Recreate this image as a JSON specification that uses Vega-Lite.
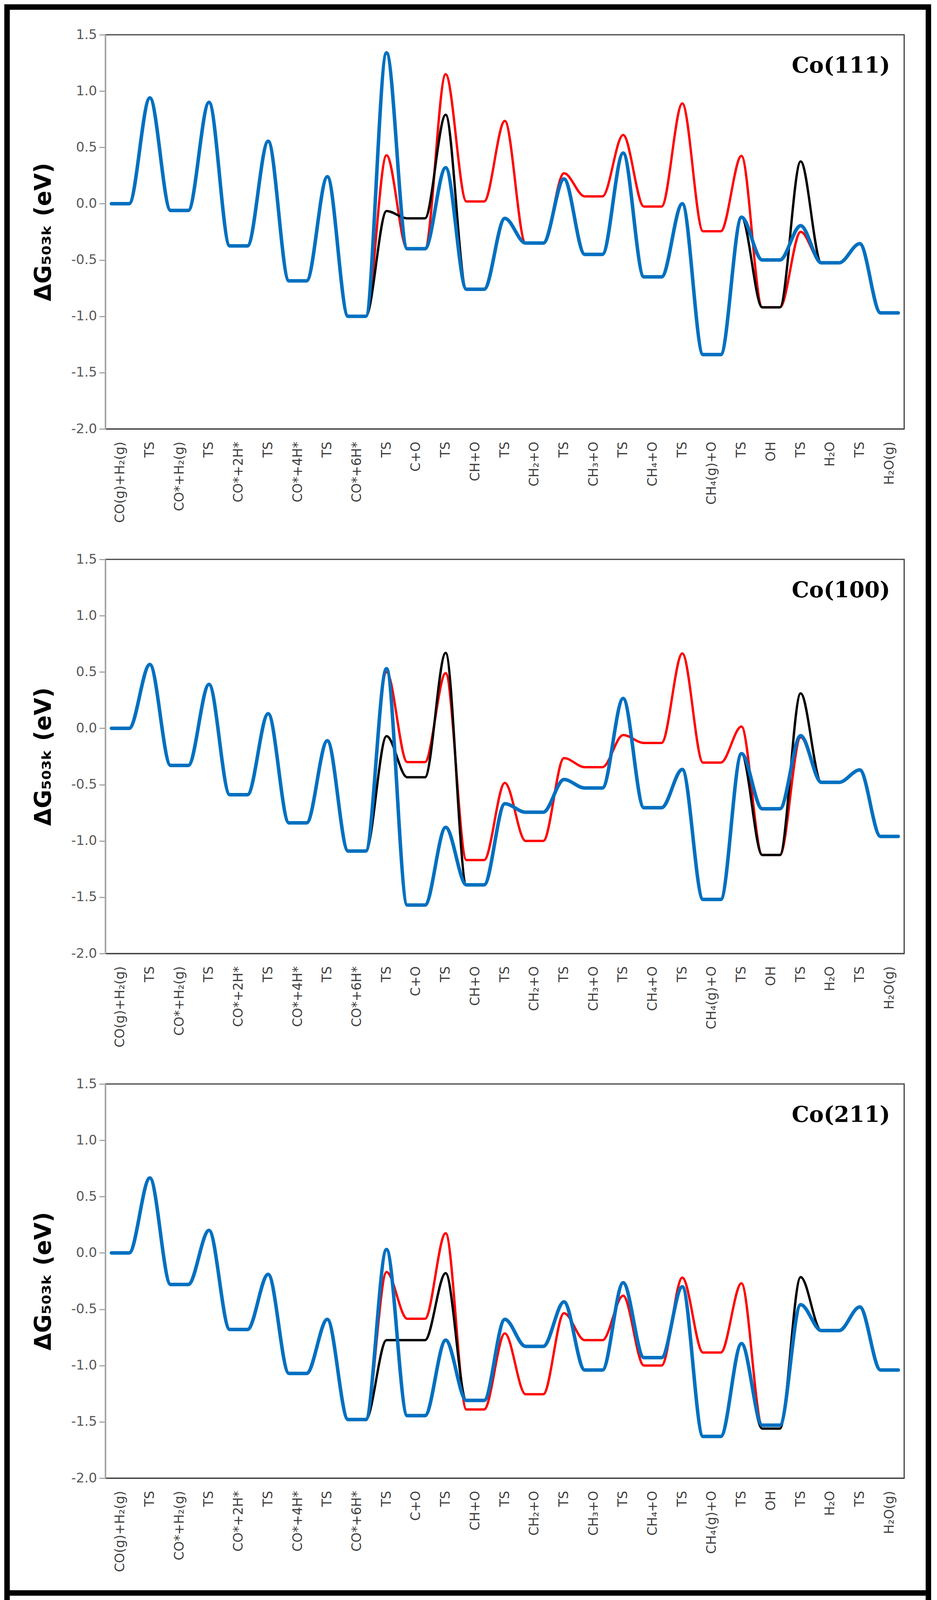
{
  "$schema": "https://vega.github.io/schema/vega-lite/v6.json",
  "description": "Free energy diagrams for CO methanation on Co(111), Co(100) and Co(211), three pathways each.",
  "background": "white",
  "padding": {"left": 11, "top": 11, "right": 0, "bottom": 0},
  "config": {
    "view": {"stroke": null},
    "title": {"orient": "top", "anchor": "end", "frame": "group", "offset": -126, "baseline": "middle", "dx": -36, "font": "DejaVu Serif", "fontSize": 56, "fontWeight": "bold", "color": "black"}
  },
  "datasets": {
    "d111r": [{"x":-0.3,"g":0},{"x":0.3,"g":0},{"x":1,"g":0.94},{"x":1.7,"g":-0.06},{"x":2.3,"g":-0.06},{"x":3,"g":0.9},{"x":3.7,"g":-0.375},{"x":4.3,"g":-0.375},{"x":5,"g":0.555},{"x":5.7,"g":-0.685},{"x":6.3,"g":-0.685},{"x":7,"g":0.24},{"x":7.7,"g":-1},{"x":8.3,"g":-1},{"x":9,"g":0.43},{"x":9.7,"g":-0.4},{"x":10.3,"g":-0.4},{"x":11,"g":1.15},{"x":11.7,"g":0.02},{"x":12.3,"g":0.02},{"x":13,"g":0.735},{"x":13.7,"g":-0.35},{"x":14.3,"g":-0.35},{"x":15,"g":0.27},{"x":15.7,"g":0.065},{"x":16.3,"g":0.065},{"x":17,"g":0.61},{"x":17.7,"g":-0.025},{"x":18.3,"g":-0.025},{"x":19,"g":0.89},{"x":19.7,"g":-0.245},{"x":20.3,"g":-0.245},{"x":21,"g":0.425},{"x":21.7,"g":-0.92},{"x":22.3,"g":-0.92},{"x":23,"g":-0.25},{"x":23.7,"g":-0.525},{"x":24.3,"g":-0.525},{"x":25,"g":-0.355},{"x":25.7,"g":-0.97},{"x":26.3,"g":-0.97}],
    "d111k": [{"x":-0.3,"g":0},{"x":0.3,"g":0},{"x":1,"g":0.94},{"x":1.7,"g":-0.06},{"x":2.3,"g":-0.06},{"x":3,"g":0.9},{"x":3.7,"g":-0.375},{"x":4.3,"g":-0.375},{"x":5,"g":0.555},{"x":5.7,"g":-0.685},{"x":6.3,"g":-0.685},{"x":7,"g":0.24},{"x":7.7,"g":-1},{"x":8.3,"g":-1},{"x":9,"g":-0.065},{"x":9.7,"g":-0.13},{"x":10.3,"g":-0.13},{"x":11,"g":0.79},{"x":11.7,"g":-0.76},{"x":12.3,"g":-0.76},{"x":13,"g":-0.13},{"x":13.7,"g":-0.35},{"x":14.3,"g":-0.35},{"x":15,"g":0.22},{"x":15.7,"g":-0.45},{"x":16.3,"g":-0.45},{"x":17,"g":0.45},{"x":17.7,"g":-0.65},{"x":18.3,"g":-0.65},{"x":19,"g":0},{"x":19.7,"g":-1.34},{"x":20.3,"g":-1.34},{"x":21,"g":-0.12},{"x":21.7,"g":-0.92},{"x":22.3,"g":-0.92},{"x":23,"g":0.375},{"x":23.7,"g":-0.525},{"x":24.3,"g":-0.525},{"x":25,"g":-0.355},{"x":25.7,"g":-0.97},{"x":26.3,"g":-0.97}],
    "d111b": [{"x":-0.3,"g":0},{"x":0.3,"g":0},{"x":1,"g":0.94},{"x":1.7,"g":-0.06},{"x":2.3,"g":-0.06},{"x":3,"g":0.9},{"x":3.7,"g":-0.375},{"x":4.3,"g":-0.375},{"x":5,"g":0.555},{"x":5.7,"g":-0.685},{"x":6.3,"g":-0.685},{"x":7,"g":0.24},{"x":7.7,"g":-1},{"x":8.3,"g":-1},{"x":9,"g":1.34},{"x":9.7,"g":-0.4},{"x":10.3,"g":-0.4},{"x":11,"g":0.32},{"x":11.7,"g":-0.76},{"x":12.3,"g":-0.76},{"x":13,"g":-0.13},{"x":13.7,"g":-0.35},{"x":14.3,"g":-0.35},{"x":15,"g":0.22},{"x":15.7,"g":-0.45},{"x":16.3,"g":-0.45},{"x":17,"g":0.45},{"x":17.7,"g":-0.65},{"x":18.3,"g":-0.65},{"x":19,"g":0},{"x":19.7,"g":-1.34},{"x":20.3,"g":-1.34},{"x":21,"g":-0.12},{"x":21.7,"g":-0.5},{"x":22.3,"g":-0.5},{"x":23,"g":-0.195},{"x":23.7,"g":-0.525},{"x":24.3,"g":-0.525},{"x":25,"g":-0.355},{"x":25.7,"g":-0.97},{"x":26.3,"g":-0.97}],
    "d100r": [{"x":-0.3,"g":0},{"x":0.3,"g":0},{"x":1,"g":0.567},{"x":1.7,"g":-0.33},{"x":2.3,"g":-0.33},{"x":3,"g":0.39},{"x":3.7,"g":-0.59},{"x":4.3,"g":-0.59},{"x":5,"g":0.13},{"x":5.7,"g":-0.84},{"x":6.3,"g":-0.84},{"x":7,"g":-0.11},{"x":7.7,"g":-1.09},{"x":8.3,"g":-1.09},{"x":9,"g":0.5},{"x":9.7,"g":-0.3},{"x":10.3,"g":-0.3},{"x":11,"g":0.49},{"x":11.7,"g":-1.17},{"x":12.3,"g":-1.17},{"x":13,"g":-0.485},{"x":13.7,"g":-1},{"x":14.3,"g":-1},{"x":15,"g":-0.265},{"x":15.7,"g":-0.345},{"x":16.3,"g":-0.345},{"x":17,"g":-0.06},{"x":17.7,"g":-0.13},{"x":18.3,"g":-0.13},{"x":19,"g":0.665},{"x":19.7,"g":-0.305},{"x":20.3,"g":-0.305},{"x":21,"g":0.015},{"x":21.7,"g":-1.125},{"x":22.3,"g":-1.125},{"x":23,"g":-0.08},{"x":23.7,"g":-0.48},{"x":24.3,"g":-0.48},{"x":25,"g":-0.37},{"x":25.7,"g":-0.96},{"x":26.3,"g":-0.96}],
    "d100k": [{"x":-0.3,"g":0},{"x":0.3,"g":0},{"x":1,"g":0.567},{"x":1.7,"g":-0.33},{"x":2.3,"g":-0.33},{"x":3,"g":0.39},{"x":3.7,"g":-0.59},{"x":4.3,"g":-0.59},{"x":5,"g":0.13},{"x":5.7,"g":-0.84},{"x":6.3,"g":-0.84},{"x":7,"g":-0.11},{"x":7.7,"g":-1.09},{"x":8.3,"g":-1.09},{"x":9,"g":-0.07},{"x":9.7,"g":-0.435},{"x":10.3,"g":-0.435},{"x":11,"g":0.67},{"x":11.7,"g":-1.39},{"x":12.3,"g":-1.39},{"x":13,"g":-0.67},{"x":13.7,"g":-0.745},{"x":14.3,"g":-0.745},{"x":15,"g":-0.455},{"x":15.7,"g":-0.53},{"x":16.3,"g":-0.53},{"x":17,"g":0.265},{"x":17.7,"g":-0.705},{"x":18.3,"g":-0.705},{"x":19,"g":-0.365},{"x":19.7,"g":-1.52},{"x":20.3,"g":-1.52},{"x":21,"g":-0.225},{"x":21.7,"g":-1.125},{"x":22.3,"g":-1.125},{"x":23,"g":0.31},{"x":23.7,"g":-0.48},{"x":24.3,"g":-0.48},{"x":25,"g":-0.37},{"x":25.7,"g":-0.96},{"x":26.3,"g":-0.96}],
    "d100b": [{"x":-0.3,"g":0},{"x":0.3,"g":0},{"x":1,"g":0.567},{"x":1.7,"g":-0.33},{"x":2.3,"g":-0.33},{"x":3,"g":0.39},{"x":3.7,"g":-0.59},{"x":4.3,"g":-0.59},{"x":5,"g":0.13},{"x":5.7,"g":-0.84},{"x":6.3,"g":-0.84},{"x":7,"g":-0.11},{"x":7.7,"g":-1.09},{"x":8.3,"g":-1.09},{"x":9,"g":0.53},{"x":9.7,"g":-1.57},{"x":10.3,"g":-1.57},{"x":11,"g":-0.88},{"x":11.7,"g":-1.39},{"x":12.3,"g":-1.39},{"x":13,"g":-0.67},{"x":13.7,"g":-0.745},{"x":14.3,"g":-0.745},{"x":15,"g":-0.455},{"x":15.7,"g":-0.53},{"x":16.3,"g":-0.53},{"x":17,"g":0.265},{"x":17.7,"g":-0.705},{"x":18.3,"g":-0.705},{"x":19,"g":-0.365},{"x":19.7,"g":-1.52},{"x":20.3,"g":-1.52},{"x":21,"g":-0.225},{"x":21.7,"g":-0.715},{"x":22.3,"g":-0.715},{"x":23,"g":-0.065},{"x":23.7,"g":-0.48},{"x":24.3,"g":-0.48},{"x":25,"g":-0.37},{"x":25.7,"g":-0.96},{"x":26.3,"g":-0.96}],
    "d211r": [{"x":-0.3,"g":0},{"x":0.3,"g":0},{"x":1,"g":0.666},{"x":1.7,"g":-0.28},{"x":2.3,"g":-0.28},{"x":3,"g":0.2},{"x":3.7,"g":-0.68},{"x":4.3,"g":-0.68},{"x":5,"g":-0.19},{"x":5.7,"g":-1.07},{"x":6.3,"g":-1.07},{"x":7,"g":-0.59},{"x":7.7,"g":-1.48},{"x":8.3,"g":-1.48},{"x":9,"g":-0.17},{"x":9.7,"g":-0.585},{"x":10.3,"g":-0.585},{"x":11,"g":0.175},{"x":11.7,"g":-1.39},{"x":12.3,"g":-1.39},{"x":13,"g":-0.715},{"x":13.7,"g":-1.255},{"x":14.3,"g":-1.255},{"x":15,"g":-0.535},{"x":15.7,"g":-0.775},{"x":16.3,"g":-0.775},{"x":17,"g":-0.38},{"x":17.7,"g":-1},{"x":18.3,"g":-1},{"x":19,"g":-0.22},{"x":19.7,"g":-0.885},{"x":20.3,"g":-0.885},{"x":21,"g":-0.27},{"x":21.7,"g":-1.53},{"x":22.3,"g":-1.53},{"x":23,"g":-0.46},{"x":23.7,"g":-0.69},{"x":24.3,"g":-0.69},{"x":25,"g":-0.48},{"x":25.7,"g":-1.04},{"x":26.3,"g":-1.04}],
    "d211k": [{"x":-0.3,"g":0},{"x":0.3,"g":0},{"x":1,"g":0.666},{"x":1.7,"g":-0.28},{"x":2.3,"g":-0.28},{"x":3,"g":0.2},{"x":3.7,"g":-0.68},{"x":4.3,"g":-0.68},{"x":5,"g":-0.19},{"x":5.7,"g":-1.07},{"x":6.3,"g":-1.07},{"x":7,"g":-0.59},{"x":7.7,"g":-1.48},{"x":8.3,"g":-1.48},{"x":9,"g":-0.775},{"x":9.7,"g":-0.775},{"x":10.3,"g":-0.775},{"x":11,"g":-0.18},{"x":11.7,"g":-1.31},{"x":12.3,"g":-1.31},{"x":13,"g":-0.59},{"x":13.7,"g":-0.83},{"x":14.3,"g":-0.83},{"x":15,"g":-0.435},{"x":15.7,"g":-1.04},{"x":16.3,"g":-1.04},{"x":17,"g":-0.265},{"x":17.7,"g":-0.93},{"x":18.3,"g":-0.93},{"x":19,"g":-0.3},{"x":19.7,"g":-1.63},{"x":20.3,"g":-1.63},{"x":21,"g":-0.805},{"x":21.7,"g":-1.56},{"x":22.3,"g":-1.56},{"x":23,"g":-0.215},{"x":23.7,"g":-0.69},{"x":24.3,"g":-0.69},{"x":25,"g":-0.48},{"x":25.7,"g":-1.04},{"x":26.3,"g":-1.04}],
    "d211b": [{"x":-0.3,"g":0},{"x":0.3,"g":0},{"x":1,"g":0.666},{"x":1.7,"g":-0.28},{"x":2.3,"g":-0.28},{"x":3,"g":0.2},{"x":3.7,"g":-0.68},{"x":4.3,"g":-0.68},{"x":5,"g":-0.19},{"x":5.7,"g":-1.07},{"x":6.3,"g":-1.07},{"x":7,"g":-0.59},{"x":7.7,"g":-1.48},{"x":8.3,"g":-1.48},{"x":9,"g":0.03},{"x":9.7,"g":-1.445},{"x":10.3,"g":-1.445},{"x":11,"g":-0.775},{"x":11.7,"g":-1.31},{"x":12.3,"g":-1.31},{"x":13,"g":-0.59},{"x":13.7,"g":-0.83},{"x":14.3,"g":-0.83},{"x":15,"g":-0.435},{"x":15.7,"g":-1.04},{"x":16.3,"g":-1.04},{"x":17,"g":-0.265},{"x":17.7,"g":-0.93},{"x":18.3,"g":-0.93},{"x":19,"g":-0.3},{"x":19.7,"g":-1.63},{"x":20.3,"g":-1.63},{"x":21,"g":-0.805},{"x":21.7,"g":-1.53},{"x":22.3,"g":-1.53},{"x":23,"g":-0.46},{"x":23.7,"g":-0.69},{"x":24.3,"g":-0.69},{"x":25,"g":-0.48},{"x":25.7,"g":-1.04},{"x":26.3,"g":-1.04}]
  },
  "spacing": 0,
  "hconcat": [
    {"width": 14, "height": 4134, "data": {"values": []}, "mark": "rect", "view": {"fill": "black", "stroke": null}},
    {
      "spacing": 45,
      "vconcat": [
        {"width": 2344, "height": 14, "data": {"values": []}, "mark": "rect", "view": {"fill": "black", "stroke": null}},
        {
          "spacing": 0,
          "hconcat": [
            {"width": 57, "height": 10, "data": {"values": []}, "mark": "rect", "view": {"stroke": null}},
            {
              "spacing": 73,
              "vconcat": [
                {
                  "width": 2044, "height": 1009,
                  "title": {"text": "Co(111)"},
                  "view": {"stroke": "#404040", "strokeWidth": 3},
                  "encoding": {
                    "x": {"field": "x", "type": "quantitative", "scale": {"domain": [-0.5, 26.5], "nice": false, "zero": false},
                      "axis": {"values": [0,1,2,3,4,5,6,7,8,9,10,11,12,13,14,15,16,17,18,19,20,21,22,23,24,25,26], "labelExpr": "['CO(g)+H₂(g)','TS','CO*+H₂(g)','TS','CO*+2H*','TS','CO*+4H*','TS','CO*+6H*','TS','C+O','TS','CH+O','TS','CH₂+O','TS','CH₃+O','TS','CH₄+O','TS','CH₄(g)+O','TS','OH','TS','H₂O','TS','H₂O(g)'][datum.value]", "labelAngle": -90, "labelAlign": "right", "labelBaseline": "middle", "labelPadding": 32, "labelLimit": 0, "labelFont": "DejaVu Sans", "labelFontSize": 33, "labelColor": "#404040", "labelOverlap": false, "labelFlush": false, "labelBound": false, "ticks": false, "grid": false, "domainColor": "#404040", "domainWidth": 3, "title": null}},
                    "y": {"field": "g", "type": "quantitative", "scale": {"domain": [-2, 1.5], "nice": false, "zero": false},
                      "axis": {"values": [-2,-1.5,-1,-0.5,0,0.5,1,1.5], "labelExpr": "replace(format(datum.value, '.1f'), '\u2212', '-')", "tickSize": 16, "tickColor": "#a6a6a6", "tickWidth": 3, "domainColor": "#a6a6a6", "domainWidth": 3, "labelFont": "DejaVu Sans", "labelFontSize": 34, "labelColor": "#595959", "labelPadding": 6, "title": "ΔG₅₀₃ₖ (eV)", "titleFont": "DejaVu Sans", "titleFontSize": 58, "titleFontWeight": "bold", "titleColor": "black", "titlePadding": 40, "grid": false}}
                  },
                  "layer": [
                    {"data": {"values": [{}]}, "mark": {"type": "rule", "color": "#868686", "strokeWidth": 2}, "encoding": {"x": {"datum": -0.5}, "x2": {"datum": 26.5}, "y": {"datum": 0}}},
                    {"data": {"name": "d111r"}, "mark": {"type": "line", "interpolate": "monotone", "color": "#ff0000", "strokeWidth": 6, "strokeCap": "round", "strokeJoin": "round"}},
                    {"data": {"name": "d111k"}, "mark": {"type": "line", "interpolate": "monotone", "color": "#000000", "strokeWidth": 6, "strokeCap": "round", "strokeJoin": "round"}},
                    {"data": {"name": "d111b"}, "mark": {"type": "line", "interpolate": "monotone", "color": "#0070c0", "strokeWidth": 9, "strokeCap": "round", "strokeJoin": "round"}}
                  ]
                },
                {
                  "width": 2044, "height": 1009,
                  "title": {"text": "Co(100)"},
                  "view": {"stroke": "#404040", "strokeWidth": 3},
                  "encoding": {
                    "x": {"field": "x", "type": "quantitative", "scale": {"domain": [-0.5, 26.5], "nice": false, "zero": false},
                      "axis": {"values": [0,1,2,3,4,5,6,7,8,9,10,11,12,13,14,15,16,17,18,19,20,21,22,23,24,25,26], "labelExpr": "['CO(g)+H₂(g)','TS','CO*+H₂(g)','TS','CO*+2H*','TS','CO*+4H*','TS','CO*+6H*','TS','C+O','TS','CH+O','TS','CH₂+O','TS','CH₃+O','TS','CH₄+O','TS','CH₄(g)+O','TS','OH','TS','H₂O','TS','H₂O(g)'][datum.value]", "labelAngle": -90, "labelAlign": "right", "labelBaseline": "middle", "labelPadding": 32, "labelLimit": 0, "labelFont": "DejaVu Sans", "labelFontSize": 33, "labelColor": "#404040", "labelOverlap": false, "labelFlush": false, "labelBound": false, "ticks": false, "grid": false, "domainColor": "#404040", "domainWidth": 3, "title": null}},
                    "y": {"field": "g", "type": "quantitative", "scale": {"domain": [-2, 1.5], "nice": false, "zero": false},
                      "axis": {"values": [-2,-1.5,-1,-0.5,0,0.5,1,1.5], "labelExpr": "replace(format(datum.value, '.1f'), '\u2212', '-')", "tickSize": 16, "tickColor": "#a6a6a6", "tickWidth": 3, "domainColor": "#a6a6a6", "domainWidth": 3, "labelFont": "DejaVu Sans", "labelFontSize": 34, "labelColor": "#595959", "labelPadding": 6, "title": "ΔG₅₀₃ₖ (eV)", "titleFont": "DejaVu Sans", "titleFontSize": 58, "titleFontWeight": "bold", "titleColor": "black", "titlePadding": 40, "grid": false}}
                  },
                  "layer": [
                    {"data": {"values": [{}]}, "mark": {"type": "rule", "color": "#868686", "strokeWidth": 2}, "encoding": {"x": {"datum": -0.5}, "x2": {"datum": 26.5}, "y": {"datum": 0}}},
                    {"data": {"name": "d100r"}, "mark": {"type": "line", "interpolate": "monotone", "color": "#ff0000", "strokeWidth": 6, "strokeCap": "round", "strokeJoin": "round"}},
                    {"data": {"name": "d100k"}, "mark": {"type": "line", "interpolate": "monotone", "color": "#000000", "strokeWidth": 6, "strokeCap": "round", "strokeJoin": "round"}},
                    {"data": {"name": "d100b"}, "mark": {"type": "line", "interpolate": "monotone", "color": "#0070c0", "strokeWidth": 9, "strokeCap": "round", "strokeJoin": "round"}}
                  ]
                },
                {
                  "width": 2044, "height": 1009,
                  "title": {"text": "Co(211)"},
                  "view": {"stroke": "#404040", "strokeWidth": 3},
                  "encoding": {
                    "x": {"field": "x", "type": "quantitative", "scale": {"domain": [-0.5, 26.5], "nice": false, "zero": false},
                      "axis": {"values": [0,1,2,3,4,5,6,7,8,9,10,11,12,13,14,15,16,17,18,19,20,21,22,23,24,25,26], "labelExpr": "['CO(g)+H₂(g)','TS','CO*+H₂(g)','TS','CO*+2H*','TS','CO*+4H*','TS','CO*+6H*','TS','C+O','TS','CH+O','TS','CH₂+O','TS','CH₃+O','TS','CH₄+O','TS','CH₄(g)+O','TS','OH','TS','H₂O','TS','H₂O(g)'][datum.value]", "labelAngle": -90, "labelAlign": "right", "labelBaseline": "middle", "labelPadding": 32, "labelLimit": 0, "labelFont": "DejaVu Sans", "labelFontSize": 33, "labelColor": "#404040", "labelOverlap": false, "labelFlush": false, "labelBound": false, "ticks": false, "grid": false, "domainColor": "#404040", "domainWidth": 3, "title": null}},
                    "y": {"field": "g", "type": "quantitative", "scale": {"domain": [-2, 1.5], "nice": false, "zero": false},
                      "axis": {"values": [-2,-1.5,-1,-0.5,0,0.5,1,1.5], "labelExpr": "replace(format(datum.value, '.1f'), '\u2212', '-')", "tickSize": 16, "tickColor": "#a6a6a6", "tickWidth": 3, "domainColor": "#a6a6a6", "domainWidth": 3, "labelFont": "DejaVu Sans", "labelFontSize": 34, "labelColor": "#595959", "labelPadding": 6, "title": "ΔG₅₀₃ₖ (eV)", "titleFont": "DejaVu Sans", "titleFontSize": 58, "titleFontWeight": "bold", "titleColor": "black", "titlePadding": 40, "grid": false}}
                  },
                  "layer": [
                    {"data": {"values": [{}]}, "mark": {"type": "rule", "color": "#868686", "strokeWidth": 2}, "encoding": {"x": {"datum": -0.5}, "x2": {"datum": 26.5}, "y": {"datum": 0}}},
                    {"data": {"name": "d211r"}, "mark": {"type": "line", "interpolate": "monotone", "color": "#ff0000", "strokeWidth": 6, "strokeCap": "round", "strokeJoin": "round"}},
                    {"data": {"name": "d211k"}, "mark": {"type": "line", "interpolate": "monotone", "color": "#000000", "strokeWidth": 6, "strokeCap": "round", "strokeJoin": "round"}},
                    {"data": {"name": "d211b"}, "mark": {"type": "line", "interpolate": "monotone", "color": "#0070c0", "strokeWidth": 9, "strokeCap": "round", "strokeJoin": "round"}}
                  ]
                }
              ]
            }
          ]
        },
        {"width": 2344, "height": 14, "data": {"values": []}, "mark": "rect", "view": {"fill": "black", "stroke": null}}
      ]
    },
    {"width": 14, "height": 4134, "data": {"values": []}, "mark": "rect", "view": {"fill": "black", "stroke": null}}
  ]
}
